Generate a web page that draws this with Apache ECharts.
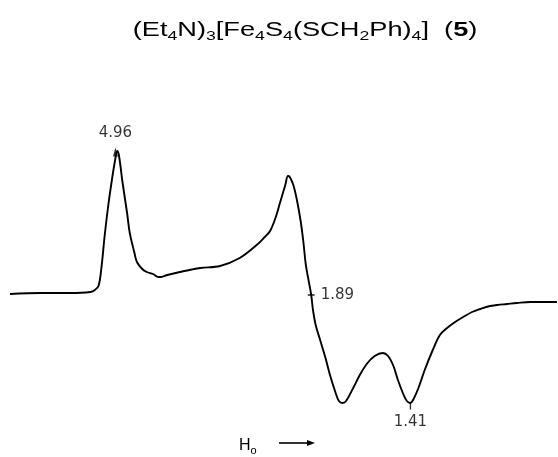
<!DOCTYPE html>
<html>
<head>
<meta charset="utf-8">
<script src="https://cdn.jsdelivr.net/npm/echarts@6/dist/echarts.min.js"></script>
<style>
html,body{margin:0;padding:0;background:#fff;}
#chart{width:558px;height:457px;}
</style>
</head>
<body>
<div id="chart"></div>
<script>
// Magnetic field (mT, estimated) and EPR signal (arbitrary units)
var field = [18, 52, 85, 108, 113, 117, 120, 124, 128, 132, 136, 138, 140, 144, 149, 152, 157, 160, 166, 171, 178, 184, 187, 194, 208, 231, 253, 275, 294, 303, 309, 315, 320, 326, 329, 331, 335, 339, 343, 346, 349, 352, 355, 357, 360, 365, 371, 376, 382, 386, 390, 394, 402, 410, 418, 426, 435, 441, 447, 452, 458, 462, 466, 469, 475, 482, 491, 499, 507, 516, 525, 535, 544, 555, 563, 574, 585, 600, 617, 630];
var signal = [-1, 0, 0, 1, 3, 7, 23, 58, 88, 113, 135, 142, 137, 110, 80, 60, 41, 31, 24, 21, 19, 16, 16, 18, 21, 25, 27, 35, 48, 56, 62, 75, 90, 108, 117, 116, 108, 93, 73, 53, 28, 13, -2, -17, -32, -47, -65, -82, -99, -108, -110, -108, -95, -81, -70, -63, -60, -63, -73, -87, -101, -108, -110, -107, -95, -77, -57, -42, -35, -29, -24, -19, -16, -13, -12, -11, -10, -9, -9, -9];

// g-value markers
var gLabels = ['4.96', '1.89', '1.41'];
var gField = [136, 355, 466];
var gSignal = [142, -2, -110];

var FONT = '"Liberation Sans", Arial, sans-serif';
var LABEL_FONT = '"DejaVu Sans", sans-serif';

var markerLook = [
  {symbol: 'triangle', symbolSize: [5, 9], symbolOffset: [0, 1], position: 'top', distance: 7},
  {symbol: 'rect', symbolSize: [7, 1.6], symbolOffset: [0, 0], position: 'right', distance: 6},
  {symbol: 'rect', symbolSize: [1.4, 7], symbolOffset: [0, 3], position: 'bottom', distance: 5}
];

var lineData = field.map(function (f, i) { return [f, signal[i]]; });
var markData = gField.map(function (f, i) {
  var look = markerLook[i];
  return {
    value: [f, gSignal[i]],
    name: gLabels[i],
    symbol: look.symbol,
    symbolSize: look.symbolSize,
    symbolOffset: look.symbolOffset,
    label: {position: look.position, distance: look.distance}
  };
});

var chart = echarts.init(document.getElementById('chart'), null, {renderer: 'canvas'});
chart.setOption({
  animation: false,
  backgroundColor: '#ffffff',
  grid: {left: 10, right: 1, top: 100, bottom: 40, containLabel: false},
  xAxis: {type: 'value', min: 18, max: 630, show: false},
  yAxis: {type: 'value', min: -124, max: 193, show: false},
  series: [
    {
      type: 'line',
      data: lineData,
      smooth: 0.35,
      symbol: 'none',
      lineStyle: {color: '#000', width: 1.9},
      z: 2
    },
    {
      type: 'scatter',
      data: markData,
      itemStyle: {color: '#000'},
      label: {
        show: true,
        formatter: '{b}',
        color: '#000',
        fontFamily: LABEL_FONT,
        fontSize: 15
      },
      z: 3
    }
  ],
  graphic: [
    {
      type: 'text',
      x: 305,
      y: 30,
      scaleX: 1.36,
      style: {
        text: '{a|(Et}{b|4}{a|N)}{b|3}{a|[Fe}{b|4}{a|S}{b|4}{a|(SCH}{b|2}{a|Ph)}{b|4}{a|]  (}{c|5}{a|)}',
        align: 'center',
        verticalAlign: 'middle',
        rich: {
          a: {fontFamily: FONT, fontSize: 20, fill: '#000', lineHeight: 26},
          b: {fontFamily: FONT, fontSize: 13, fill: '#000', verticalAlign: 'bottom'},
          c: {fontFamily: FONT, fontSize: 20, fontWeight: 'bold', fill: '#000', lineHeight: 26}
        }
      }
    },
    {
      type: 'text',
      x: 239,
      y: 436,
      style: {
        text: '{h|H}{o|o}',
        rich: {
          h: {fontFamily: FONT, fontSize: 16, fill: '#000', lineHeight: 20},
          o: {fontFamily: FONT, fontSize: 11, fill: '#000', verticalAlign: 'bottom'}
        }
      }
    },
    {
      type: 'line',
      shape: {x1: 279, y1: 443, x2: 309, y2: 443},
      style: {stroke: '#000', lineWidth: 1.6}
    },
    {
      type: 'polygon',
      shape: {points: [[307, 440], [315, 443], [307, 446]]},
      style: {fill: '#000'}
    }
  ]
});
</script>
</body>
</html>
